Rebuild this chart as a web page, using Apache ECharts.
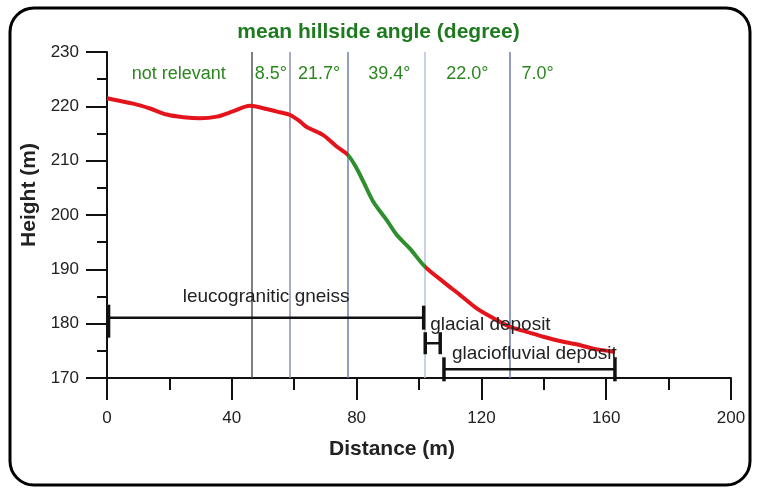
<!DOCTYPE html>
<html>
<head>
<meta charset="utf-8">
<script src="https://cdn.jsdelivr.net/npm/echarts@6/dist/echarts.min.js"></script>
<style>
  html, body { margin: 0; padding: 0; background: #fff; }
  #main { width: 757px; height: 488px; }
</style>
</head>
<body>
<div id="main"></div>
<script>
// profile of the slope
var distance = [0, 8.4, 13.8, 19.1, 24.5, 29.8, 35.2, 40.5, 45.8, 51.2, 55.4, 58.7, 61.9, 64.0, 69.3, 73.6, 77.3,
  80.0, 82.2, 85.4, 89.6, 92.9, 97.1, 101.9, 107.8, 113.1, 118.5, 123.8, 129.2, 134.5, 139.8, 145.2, 150.5, 155.9, 162.8];
var height = [221.5, 220.5, 219.6, 218.5, 218.0, 217.8, 218.1, 219.1, 220.1, 219.5, 218.9, 218.4, 217.2, 216.2, 214.7, 212.6, 211.0,
  208.6, 206.1, 202.4, 199.1, 196.3, 193.8, 190.5, 187.7, 185.3, 182.8, 181.0, 179.4, 178.5, 177.6, 176.8, 176.2, 175.4, 174.8];

// section boundaries (vertical lines) and mean angles
var boundaries = [46.5, 58.7, 77.2, 101.9, 129.2];
var boundaryColors = ['#555555', '#8a90ac', '#6f80b0', '#b4c2e0', '#6f7ea8'];
var angleLabels = ['not relevant', '8.5°', '21.7°', '39.4°', '22.0°', '7.0°'];
var angleLabelX = [23, 52.5, 68, 90.5, 115.5, 138];
var angleLabelY = 226;

// geological units (brackets)
var units = ['leucogranitic gneiss', 'glacial deposit', 'glaciofluvial deposit'];
var unitStart = [0.5, 102, 108];
var unitEnd = [101.5, 106.8, 162.8];
var unitLevel = [181.1, 176.4, 171.6];

var xTicks = [0, 40, 80, 120, 160, 200];
var yTicks = [170, 180, 190, 200, 210, 220, 230];

var font = 'Liberation Sans';
var chart = echarts.init(document.getElementById('main'));

var profile = distance.map(function (d, i) { return [d, height[i]]; });
var angleData = angleLabels.map(function (t, i) { return [angleLabelX[i], angleLabelY, t]; });
var unitData = units.map(function (u, i) { return [unitStart[i], unitEnd[i], unitLevel[i], u]; });

option = {
  backgroundColor: '#ffffff',
  animation: false,
  title: {
    text: 'mean hillside angle (degree)',
    left: 'center',
    top: 17,
    textStyle: { color: '#1e7a1e', fontSize: 21, fontWeight: 'bold', fontFamily: font }
  },
  graphic: [{
    type: 'rect',
    shape: { x: 10, y: 8, width: 740, height: 477, r: 24 },
    style: { fill: null, stroke: '#000', lineWidth: 3 },
    silent: true
  }],
  grid: { left: 107, right: 26, top: 52, bottom: 110 },
  xAxis: {
    type: 'value',
    min: xTicks[0],
    max: xTicks[xTicks.length - 1],
    interval: 40,
    name: 'Distance (m)',
    nameLocation: 'middle',
    nameGap: 61,
    nameTextStyle: { color: '#222', fontSize: 21, fontWeight: 'bold', fontFamily: font, padding: [0, 54, 0, 0] },
    axisLine: { lineStyle: { color: '#111', width: 2 } },
    axisTick: { length: 22, lineStyle: { color: '#111', width: 2 } },
    minorTick: { show: true, splitNumber: 2, length: 12, lineStyle: { color: '#111', width: 2 } },
    axisLabel: { margin: 32, color: '#222', fontSize: 17, fontFamily: font },
    splitLine: { show: false }
  },
  yAxis: {
    type: 'value',
    min: yTicks[0],
    max: yTicks[yTicks.length - 1],
    interval: 10,
    name: 'Height (m)',
    nameLocation: 'middle',
    nameGap: 66,
    nameTextStyle: { color: '#222', fontSize: 21, fontWeight: 'bold', fontFamily: font, padding: [0, 0, 0, 40] },
    axisLine: { show: true, lineStyle: { color: '#111', width: 2 } },
    axisTick: { show: true, length: 21, lineStyle: { color: '#111', width: 2 } },
    minorTick: { show: true, splitNumber: 2, length: 10, lineStyle: { color: '#111', width: 2 } },
    axisLabel: { margin: 28, color: '#222', fontSize: 17, fontFamily: font },
    splitLine: { show: false }
  },
  visualMap: {
    show: false,
    type: 'piecewise',
    dimension: 0,
    seriesIndex: 0,
    pieces: [
      { lt: boundaries[2], color: '#e3141c' },
      { gte: boundaries[2], lte: boundaries[3], color: '#2f8f2f' },
      { gt: boundaries[3], color: '#e3141c' }
    ]
  },
  series: [
    {
      name: 'profile',
      type: 'line',
      data: profile,
      symbol: 'none',
      smooth: 0.3,
      lineStyle: { width: 4 },
      z: 5,
      markLine: {
        silent: true,
        symbol: 'none',
        label: { show: false },
        data: boundaries.map(function (b, i) {
          return { xAxis: b, lineStyle: { color: boundaryColors[i], width: 1.5, type: 'solid' } };
        })
      }
    },
    {
      name: 'angles',
      type: 'scatter',
      data: angleData,
      symbolSize: 0,
      silent: true,
      itemStyle: { opacity: 1 },
      label: {
        show: true,
        position: 'inside',
        formatter: function (p) { return p.data[2]; },
        color: '#2c861f',
        opacity: 1,
        fontSize: 18,
        fontFamily: font
      }
    },
    {
      name: 'units',
      type: 'custom',
      data: unitData,
      silent: true,
      z: 6,
      renderItem: function (params, api) {
        var i = params.dataIndex;
        var a = api.coord([api.value(0), api.value(2)]);
        var b = api.coord([api.value(1), api.value(2)]);
        var cap = i === 1 ? 11 : 12;
        var kids = [
          { type: 'line', shape: { x1: a[0], y1: a[1], x2: b[0], y2: b[1] }, style: { stroke: '#111', lineWidth: 2.5 } },
          { type: 'line', shape: { x1: a[0], y1: a[1] - cap - (i === 0 ? 1 : 0), x2: a[0], y2: a[1] + cap + (i === 0 ? 8 : 0) }, style: { stroke: '#111', lineWidth: 3.5 } },
          { type: 'line', shape: { x1: b[0], y1: b[1] - cap, x2: b[0], y2: b[1] + cap }, style: { stroke: '#111', lineWidth: 3.5 } }
        ];
        var tx, ty, align;
        if (i === 0) { tx = (a[0] + b[0]) / 2; ty = a[1] - 21; align = 'center'; }
        else if (i === 1) { tx = a[0] + 5; ty = a[1] - 18; align = 'left'; }
        else { tx = a[0] + 8; ty = a[1] - 16; align = 'left'; }
        kids.push({
          type: 'text',
          style: {
            x: tx, y: ty, text: api.value(3), align: align, verticalAlign: 'middle',
            fill: '#222', fontSize: 19, fontFamily: font
          }
        });
        return { type: 'group', children: kids };
      }
    }
  ]
};

chart.setOption(option);
</script>
</body>
</html>
